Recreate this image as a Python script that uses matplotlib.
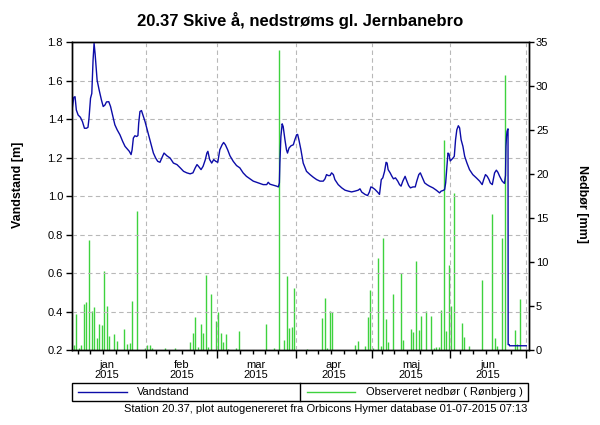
import datetime as dt
import matplotlib
matplotlib.use("Agg")
import matplotlib.pyplot as plt
import matplotlib.dates as mdates
from matplotlib.lines import Line2D
from matplotlib.patches import Rectangle
from matplotlib.ticker import FormatStrFormatter, NullFormatter
import numpy as np

plt.rcParams['font.family'] = ['Liberation Sans', 'DejaVu Sans']

start = dt.datetime(2015, 1, 1)

# vandstand: days since 1 jan 2015 and level in metres
level_day = [1.9, 2.5, 3.0, 3.5, 4.2, 5.1, 5.9, 6.7, 7.5, 8.1, 8.5, 9.1, 9.6, 10.1, 10.5,
             10.9, 11.2, 11.7, 12.5, 13.4, 14.1, 14.8, 15.4, 16.3, 17.0, 17.8, 18.7, 19.6,
             20.7, 21.8, 22.7, 23.6, 24.4, 25.1, 25.5, 26.0, 26.6, 27.3, 27.8, 28.1, 28.6,
             29.2, 29.9, 30.6, 31.3, 32.2, 33.0, 33.9, 34.8, 35.6, 36.5, 37.2, 38.1, 39.2,
             40.5, 41.8, 43.2, 44.5, 45.8, 47.1, 48.4, 49.5, 50.4, 51.1, 51.7, 52.7, 53.5,
             54.4, 55.0, 55.4, 56.1, 56.9, 57.7, 58.5, 59.3, 60.1, 61.0, 61.6, 62.3, 63.2,
             64.1, 65.4, 66.7, 68.0, 69.3, 70.6, 72.0, 73.3, 74.6, 75.9, 77.2, 78.6, 79.2,
             79.9, 81.2, 82.5, 83.2, 83.6, 83.8, 84.2, 84.7, 85.1, 85.8, 86.4, 86.8, 87.4,
             88.2, 89.1, 89.7, 90.4, 90.8, 91.3, 92.1, 93.0, 94.3, 95.7, 97.0, 98.3, 99.6,
             100.9, 101.6, 102.2, 102.9, 103.6, 104.2, 104.9, 105.5, 106.8, 108.2, 109.5,
             110.8, 112.1, 113.4, 114.7, 115.4, 116.1, 117.4, 118.4, 119.1, 119.7, 120.5,
             121.3, 122.4, 123.1, 123.8, 124.4, 125.1, 125.7, 126.1, 126.5, 127.3, 128.0,
             128.6, 129.4, 130.3, 131.0, 131.6, 132.3, 133.2, 133.9, 134.6, 135.3, 136.3,
             137.2, 137.8, 138.6, 139.2, 139.9, 140.9, 141.8, 142.8, 144.2, 145.5, 146.8,
             147.4, 148.1, 148.8, 149.2, 149.7, 150.1, 150.5, 151.0, 151.5, 152.1, 152.6,
             153.1, 153.6, 154.2, 154.7, 155.3, 156.0, 156.7, 157.6, 158.6, 159.9, 161.3,
             162.6, 163.6, 164.2, 164.9, 165.6, 166.3, 166.8, 167.6, 168.5, 169.2, 169.8,
             170.5, 171.5, 172.4, 172.8, 173.0, 173.2, 173.4, 173.6, 173.8, 173.85, 174.3,
             174.4, 181.0]
level_m = [1.457, 1.514, 1.517, 1.448, 1.422, 1.41, 1.388, 1.353, 1.353, 1.358, 1.405, 1.509,
           1.534, 1.707, 1.795, 1.741, 1.69, 1.603, 1.552, 1.5, 1.466, 1.474, 1.49, 1.491,
           1.466, 1.422, 1.371, 1.345, 1.319, 1.284, 1.259, 1.245, 1.233, 1.216, 1.241, 1.302,
           1.314, 1.31, 1.315, 1.379, 1.44, 1.445, 1.417, 1.388, 1.353, 1.31, 1.267, 1.224,
           1.198, 1.181, 1.176, 1.198, 1.224, 1.21, 1.198, 1.172, 1.164, 1.147, 1.129, 1.121,
           1.116, 1.121, 1.147, 1.164, 1.155, 1.138, 1.155, 1.19, 1.224, 1.233, 1.19, 1.172,
           1.19, 1.181, 1.176, 1.241, 1.267, 1.279, 1.267, 1.241, 1.21, 1.181, 1.159, 1.147,
           1.121, 1.103, 1.09, 1.078, 1.072, 1.066, 1.06, 1.06, 1.072, 1.062, 1.057, 1.052,
           1.048, 1.069, 1.172, 1.31, 1.376, 1.362, 1.293, 1.241, 1.224, 1.25, 1.262, 1.267,
           1.293, 1.319, 1.321, 1.293, 1.241, 1.172, 1.129, 1.112, 1.098, 1.086, 1.078, 1.078,
           1.09, 1.112, 1.107, 1.107, 1.121, 1.112, 1.086, 1.06, 1.043, 1.031, 1.026, 1.022,
           1.026, 1.031, 1.038, 1.021, 1.009, 1.003, 1.021, 1.048, 1.043, 1.035, 1.02, 1.009,
           1.086, 1.095, 1.129, 1.176, 1.172, 1.138, 1.121, 1.103, 1.09, 1.095, 1.078, 1.06,
           1.052, 1.078, 1.103, 1.078, 1.055, 1.043, 1.048, 1.048, 1.078, 1.112, 1.121, 1.1,
           1.069, 1.06, 1.052, 1.043, 1.031, 1.017, 1.026, 1.029, 1.034, 1.069, 1.155, 1.224,
           1.22, 1.183, 1.19, 1.198, 1.207, 1.293, 1.345, 1.366, 1.355, 1.293, 1.259, 1.207,
           1.172, 1.138, 1.112, 1.095, 1.078, 1.06, 1.086, 1.112, 1.103, 1.086, 1.069, 1.06,
           1.121, 1.135, 1.124, 1.103, 1.078, 1.066, 1.107, 1.259, 1.31, 1.336, 1.345, 1.35,
           0.228, 0.228, 0.222, 0.222]

# daily precipitation: day index since 1 jan 2015 and mm
rain_day = [2, 3, 4, 5, 6, 7, 8, 9, 10, 11, 12, 13, 14, 15, 16, 18, 19, 22, 23, 24, 25, 27,
            30, 31, 32, 33, 38, 42, 48, 49, 50, 51, 52, 53, 54, 55, 56, 58, 59, 60, 61, 62,
            63, 66, 67, 78, 81, 83, 85, 86, 87, 88, 89, 94, 100, 101, 102, 103, 104, 113,
            114, 117, 118, 119, 120, 122, 123, 124, 125, 126, 128, 131, 132, 135, 136, 137,
            138, 139, 141, 143, 144, 145, 146, 147, 148, 149, 150, 151, 152, 155, 156, 158,
            163, 167, 168, 169, 171, 172, 176, 177, 178]
rain_mm = [0.6, 4.1, 0.2, 0.6, 5.2, 5.5, 12.5, 4.4, 4.9, 1.4, 3.0, 2.8, 9.0, 5.0, 1.6, 1.8,
           1.0, 2.4, 0.7, 0.8, 5.6, 15.8, 0.2, 0.6, 0.6, 0.2, 0.2, 0.2, 0.9, 1.9, 3.75, 0.3,
           3.0, 1.9, 8.5, 0.3, 6.4, 3.3, 4.3, 1.9, 0.9, 1.8, 0.1, 0.2, 2.2, 3.0, 0.2, 34.1,
           1.1, 8.4, 2.5, 2.6, 7.1, 0.1, 3.6, 5.9, 0.2, 4.4, 4.3, 0.6, 1.0, 0.5, 3.75, 6.8,
           0.2, 10.5, 0.5, 12.7, 3.5, 0.9, 6.4, 8.8, 1.1, 2.4, 2.0, 10.1, 2.3, 3.9, 4.4, 3.9,
           0.2, 0.3, 0.3, 4.55, 23.9, 2.2, 9.7, 5.0, 17.9, 3.1, 1.5, 0.5, 8.0, 15.5, 1.4,
           0.5, 12.7, 31.3, 2.3, 0.7, 5.8]

months = ['jan', 'feb', 'mar', 'apr', 'maj', 'jun']

level_dates = [start + dt.timedelta(days=d) for d in level_day]
rain_dates = [start + dt.timedelta(days=d + 0.5) for d in rain_day]

fig = plt.figure(figsize=(6, 4.25), dpi=100)
ax = fig.add_axes([0.12, 0.1765, 0.7617, 0.724])
ax2 = ax.twinx()

ax2.vlines(rain_dates, 0, rain_mm, color='#3ed23e', lw=1.0)
ax.plot(level_dates, level_m, color='#0c0ca8', lw=1.0)
ax.set_zorder(ax2.get_zorder() + 1)
ax.patch.set_visible(False)

ax.set_xlim(dt.datetime(2015, 1, 2, 19), dt.datetime(2015, 7, 2, 2))
ax.set_ylim(0.2, 1.8)
ax2.set_ylim(0, 35)
ax.set_yticks(np.arange(0.2, 1.81, 0.2))
ax.yaxis.set_major_formatter(FormatStrFormatter('%.1f'))
ax2.set_yticks(range(0, 36, 5))

grid_kw = dict(color='#b8b8b8', lw=0.8, ls=(0, (4, 3)))
ax.yaxis.grid(True, **grid_kw)
ax.xaxis.grid(True, which='major', **grid_kw)

ax.xaxis.set_major_locator(mdates.MonthLocator())
ax.xaxis.set_major_formatter(NullFormatter())
ax.xaxis.set_minor_locator(mdates.DayLocator(bymonthday=[5, 10, 15, 20, 25]))
ax.tick_params(axis='x', which='major', length=5.8, width=1, direction='out')
ax.tick_params(axis='x', which='minor', length=2.9, width=1, direction='out')
ax.tick_params(axis='y', length=4.5, width=1, labelsize=8, pad=2)
ax2.tick_params(axis='y', length=3.5, width=1, labelsize=8, pad=1.5)

# month labels centred in each month
mid = []
for m in range(1, 7):
    a = dt.datetime(2015, m, 1)
    b = dt.datetime(2015, m + 1, 1)
    mid.append(mdates.date2num(a + (b - a) / 2))
sec = ax.secondary_xaxis('bottom')
sec.set_xticks(mid, [f'{m}\n2015' for m in months])
sec.tick_params(length=0, pad=7.5, labelsize=8)
sec.spines['bottom'].set_visible(False)
for lbl in sec.get_xticklabels():
    lbl.set_linespacing(1.0)

for a in (ax, ax2):
    for s in a.spines.values():
        s.set_linewidth(1.0)

ax.set_title('20.37 Skive å, nedstrøms gl. Jernbanebro', fontsize=12, fontweight='bold', pad=12)
ax.set_ylabel('Vandstand [m]', fontsize=9, fontweight='bold', va='center')
ax.yaxis.set_label_coords(-0.118, 0.536)
ax2.set_ylabel('Nedbør [mm]', fontsize=9, fontweight='bold', rotation=270, va='center')
ax2.yaxis.set_label_coords(1.116, 0.476)

# legend box below the chart
y0, y1 = 1 - 401 / 425, 1 - 383.3 / 425
ym = (y0 + y1) / 2
fig.add_artist(Rectangle((0.12, y0), 0.76, y1 - y0, transform=fig.transFigure,
                         fill=False, edgecolor='black', lw=1.0))
fig.add_artist(Line2D([0.5, 0.5], [y0, y1], transform=fig.transFigure, color='black', lw=1.0))
fig.add_artist(Line2D([0.1305, 0.2112], [ym, ym], transform=fig.transFigure,
                      color='#0c0ca8', lw=1.0))
fig.text(0.2288, ym, 'Vandstand', fontsize=8, va='center', ha='left')
fig.add_artist(Line2D([0.511, 0.5917], [ym, ym], transform=fig.transFigure,
                      color='#3ed23e', lw=1.0))
fig.text(0.6095, ym, 'Observeret nedbør ( Rønbjerg )', fontsize=8, va='center', ha='left')

fig.text(0.8795, 1 - 409 / 425,
         'Station 20.37, plot autogenereret fra Orbicons Hymer database 01-07-2015 07:13',
         fontsize=8, va='center', ha='right')

fig.savefig('out.png', dpi=100)
